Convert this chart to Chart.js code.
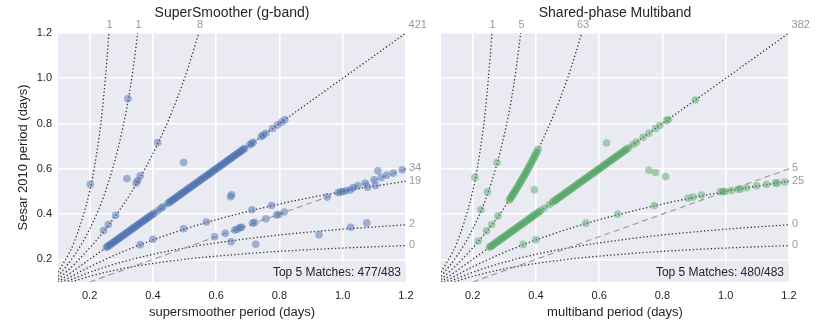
<!DOCTYPE html>
<html>
<head>
<meta charset="utf-8">
<script src="https://cdn.jsdelivr.net/npm/chart.js@4"></script>
<style>
  html, body { margin: 0; padding: 0; background: #fff; }
  #wrap { position: relative; width: 830px; height: 332px; }
  canvas { position: absolute; top: 0; }
  #left { left: 0; }
  #right { left: 430px; }
</style>
</head>
<body>
<div id="wrap">
  <canvas id="left" width="430" height="332"></canvas>
  <canvas id="right" width="400" height="332"></canvas>
</div>
<script>
// Axis ticks
const xTicks = [0.2, 0.4, 0.6, 0.8, 1.0, 1.2];
const xTickLabels = ['0.2', '0.4', '0.6', '0.8', '1.0', '1.2'];
const yTicks = [0.2, 0.4, 0.6, 0.8, 1.0, 1.2];
const yTickLabels = ['0.2', '0.4', '0.6', '0.8', '1.0', '1.2'];

// SuperSmoother: periods that match Sesar 2010
const ssMatch = [0.253, 0.257, 0.261, 0.265, 0.27, 0.274, 0.278, 0.283, 0.287, 0.292, 0.296, 0.3, 0.305, 0.309,
    0.313, 0.318, 0.322, 0.327, 0.331, 0.336, 0.34, 0.345, 0.349, 0.354, 0.358, 0.363, 0.367, 0.372, 0.376, 0.381,
    0.385, 0.39, 0.394, 0.399, 0.404, 0.415, 0.426, 0.432, 0.447, 0.452, 0.456, 0.461, 0.465, 0.47, 0.474, 0.479,
    0.483, 0.488, 0.492, 0.497, 0.501, 0.506, 0.51, 0.515, 0.519, 0.524, 0.528, 0.533, 0.537, 0.542, 0.546, 0.551,
    0.555, 0.56, 0.564, 0.569, 0.573, 0.578, 0.582, 0.587, 0.591, 0.596, 0.6, 0.605, 0.609, 0.614, 0.618, 0.623,
    0.627, 0.632, 0.636, 0.641, 0.645, 0.65, 0.654, 0.659, 0.663, 0.668, 0.672, 0.677, 0.681, 0.686, 0.69,
    0.706, 0.712, 0.717, 0.743, 0.748, 0.757, 0.778, 0.794, 0.807, 0.817];
// SuperSmoother: other (aliased / mismatched) periods
const ssOtherX = [0.202, 0.318, 0.347, 0.352, 0.36, 0.321, 0.415, 0.497, 0.282, 0.259, 0.244, 0.36, 0.4, 0.497,
    0.569, 0.595, 0.629, 0.647, 0.659, 0.666, 0.675, 0.68, 0.645, 0.649, 0.713, 0.715, 0.722, 0.725, 0.757, 0.775,
    0.791, 0.798, 0.815, 0.925, 0.951, 0.986, 0.994, 1.002, 1.012, 1.025, 1.025, 1.033, 1.048, 1.071, 1.076, 1.079,
    1.099, 1.104, 1.111, 1.121, 1.139, 1.16, 1.188];
const ssOtherY = [0.532, 0.557, 0.537, 0.548, 0.569, 0.91, 0.716, 0.628, 0.395, 0.354, 0.327, 0.265, 0.289, 0.335,
    0.365, 0.3, 0.315, 0.278, 0.33, 0.333, 0.34, 0.342, 0.477, 0.485, 0.419, 0.36, 0.364, 0.267, 0.379, 0.438,
    0.396, 0.398, 0.409, 0.309, 0.475, 0.495, 0.498, 0.5, 0.504, 0.507, 0.342, 0.517, 0.526, 0.537, 0.361, 0.519,
    0.551, 0.526, 0.591, 0.561, 0.572, 0.581, 0.596];

// Multiband: periods that match Sesar 2010
const mbMatch = [0.253, 0.257, 0.261, 0.265, 0.27, 0.274, 0.278, 0.283, 0.287, 0.292, 0.296, 0.3, 0.305, 0.309,
    0.313, 0.318, 0.322, 0.327, 0.331, 0.336, 0.34, 0.345, 0.349, 0.354, 0.358, 0.363, 0.367, 0.372, 0.376, 0.381,
    0.385, 0.39, 0.394, 0.399, 0.404, 0.409, 0.414, 0.426, 0.442, 0.453, 0.457, 0.462, 0.466, 0.471, 0.475, 0.48,
    0.484, 0.489, 0.493, 0.498, 0.502, 0.507, 0.511, 0.516, 0.52, 0.525, 0.529, 0.534, 0.538, 0.543, 0.547, 0.552,
    0.556, 0.561, 0.565, 0.57, 0.574, 0.579, 0.583, 0.588, 0.592, 0.597, 0.601, 0.606, 0.61, 0.615, 0.619, 0.624,
    0.628, 0.633, 0.637, 0.642, 0.646, 0.651, 0.655, 0.66, 0.664, 0.669, 0.673, 0.678, 0.682, 0.687, 0.692,
    0.707, 0.718, 0.739, 0.757, 0.778, 0.792, 0.813, 0.818, 0.904];
// Multiband: the run of periods one day alias off (steep band)
const mbAliasX = [0.316, 0.319, 0.322, 0.325, 0.328, 0.331, 0.334, 0.337, 0.34, 0.343, 0.346, 0.349, 0.352, 0.355,
    0.358, 0.361, 0.364, 0.367, 0.37, 0.373, 0.376, 0.379, 0.382, 0.385, 0.388, 0.391, 0.394, 0.397, 0.4, 0.403, 0.407];
const mbAliasY = [0.462, 0.4684, 0.4749, 0.4815, 0.4881, 0.4948, 0.5015, 0.5083, 0.5152, 0.5221, 0.5291, 0.5361,
    0.5432, 0.5504, 0.5576, 0.5649, 0.5723, 0.5798, 0.5873, 0.5949, 0.6026, 0.6103, 0.6181, 0.626, 0.634, 0.642,
    0.6502, 0.6584, 0.6667, 0.675, 0.6863];
// Multiband: other periods
const mbOtherX = [0.207, 0.277, 0.247, 0.226, 0.28, 0.26, 0.244, 0.218, 0.395, 0.623, 0.36, 0.4, 0.558, 0.658,
    0.774, 0.757, 0.778, 0.81, 0.881, 0.897, 0.923, 0.983, 0.992, 0.997, 1.018, 1.039, 1.047, 1.066, 1.097, 1.129,
    1.157, 1.163, 1.187];
const mbOtherY = [0.562, 0.628, 0.498, 0.419, 0.392, 0.354, 0.326, 0.281, 0.507, 0.714, 0.266, 0.287, 0.36, 0.399,
    0.438, 0.594, 0.584, 0.566, 0.47, 0.475, 0.484, 0.5, 0.5, 0.5, 0.504, 0.51, 0.511, 0.516, 0.525, 0.531,
    0.537, 0.537, 0.542];

// Alias guide curves
const identX = [0.1, 1.25];
const identY = [0.1, 1.25];
const halfX = [0.2, 1.2];
const halfY = [0.1, 0.6];
const lowX = [0.1, 0.15, 0.2, 0.3, 0.4, 0.5, 0.6, 0.8, 1.0, 1.2];
const low1Y = [0.0909, 0.1304, 0.1667, 0.2308, 0.2857, 0.3333, 0.375, 0.4444, 0.5, 0.5455];
const low2Y = [0.0833, 0.1154, 0.1429, 0.1875, 0.2222, 0.25, 0.2727, 0.3077, 0.3333, 0.3529];
const low3Y = [0.0769, 0.1034, 0.125, 0.1579, 0.1818, 0.2, 0.2143, 0.2353, 0.25, 0.2609];
const up1X = [0.1, 0.15, 0.2, 0.25, 0.3, 0.35, 0.4, 0.45, 0.5, 0.55];
const up1Y = [0.1111, 0.1765, 0.25, 0.3333, 0.4286, 0.5385, 0.6667, 0.8182, 1.0, 1.2222];
const up2X = [0.1, 0.15, 0.2, 0.25, 0.3, 0.33, 0.36];
const up2Y = [0.125, 0.2143, 0.3333, 0.5, 0.75, 0.9706, 1.2857];
const up3X = [0.1, 0.15, 0.2, 0.22, 0.24, 0.26, 0.27];
const up3Y = [0.1429, 0.2727, 0.5, 0.6471, 0.8571, 1.1818, 1.4211];

// Curve counts shown at the top and right edge
const topLabelX = [0.263, 0.355, 0.549, 1.237];
const ssTopLabels = ['1', '1', '8', '421'];
const mbTopLabels = ['1', '5', '63', '382'];
const sideLabelY = [0.603, 0.548, 0.357, 0.264];
const ssSideLabels = ['34', '19', '2', '0'];
const mbSideLabels = ['5', '25', '0', '0'];

const FONT = '"Liberation Sans", Arial, sans-serif';
Chart.defaults.font.family = FONT;

function pts(xs, ys) {
    return xs.map((x, i) => ({x: x, y: ys[i]}));
}

function curve(xs, ys, dashed) {
    return {
        type: 'line',
        data: pts(xs, ys),
        borderColor: dashed ? '#999' : '#333',
        borderWidth: dashed ? 1.1 : 1.3,
        borderDash: dashed ? [6, 4] : [1.3, 2.3],
        pointRadius: 0,
        cubicInterpolationMode: 'monotone',
        fill: false,
        order: 2
    };
}

function dots(data, color) {
    return {
        type: 'scatter',
        data: data,
        backgroundColor: color,
        borderWidth: 0,
        pointRadius: 3.8,
        order: 1
    };
}

// Background, titles, curve labels, match note
const panelDecor = {
    id: 'panelDecor',
    beforeDraw(chart) {
        const {ctx, chartArea: a} = chart;
        ctx.save();
        ctx.fillStyle = '#EAEAF2';
        ctx.fillRect(a.left, a.top, a.right - a.left, a.bottom - a.top);
        ctx.restore();
    },
    afterDraw(chart, args, o) {
        const {ctx, chartArea: a, scales: {x, y}} = chart;
        const cx = (a.left + a.right) / 2;
        ctx.save();
        ctx.textBaseline = 'middle';
        ctx.textAlign = 'center';
        ctx.fillStyle = '#262626';
        ctx.font = '14px ' + FONT;
        ctx.fillText(o.title, cx, 13);
        ctx.font = '13px ' + FONT;
        ctx.fillText(o.xTitle, cx, 312);
        if (o.yTitle) {
            ctx.save();
            ctx.translate(23, (a.top + a.bottom) / 2);
            ctx.rotate(-Math.PI / 2);
            ctx.fillText(o.yTitle, 0, 0);
            ctx.restore();
        }

        // note box
        ctx.font = '12px ' + FONT;
        const w = ctx.measureText(o.note).width;
        ctx.fillStyle = 'rgba(234,234,242,0.8)';
        ctx.fillRect(a.right - w - 11, 262, w + 11, a.bottom - 262);
        ctx.fillStyle = '#262626';
        ctx.textAlign = 'right';
        ctx.fillText(o.note, a.right - 5, 273);

        // curve labels
        ctx.fillStyle = '#999';
        ctx.font = '11px ' + FONT;
        ctx.textAlign = 'center';
        o.top.forEach((t, i) => ctx.fillText(t, x.getPixelForValue(topLabelX[i]), 25));
        ctx.textAlign = 'left';
        o.side.forEach((t, i) => ctx.fillText(t, a.right + 3, y.getPixelForValue(sideLabelY[i])));
        ctx.restore();
    }
};

function makeChart(id, cfg) {
    return new Chart(document.getElementById(id), {
        data: {
            datasets: [
                dots(cfg.points, cfg.color),
                curve(identX, identY),
                curve(halfX, halfY, true),
                curve(lowX, low1Y),
                curve(lowX, low2Y),
                curve(lowX, low3Y),
                curve(up1X, up1Y),
                curve(up2X, up2Y),
                curve(up3X, up3Y)
            ]
        },
        options: {
            responsive: false,
            animation: false,
            devicePixelRatio: 1,
            layout: {padding: {top: 33, right: cfg.padRight, bottom: 0, left: 0}},
            plugins: {
                legend: {display: false},
                tooltip: {enabled: false},
                panelDecor: cfg.text
            },
            scales: {
                x: {
                    type: 'linear', min: 0.1, max: 1.2,
                    border: {display: false},
                    grid: {color: '#fff', lineWidth: 1.6, drawTicks: false},
                    ticks: {color: '#262626', font: {size: 11}, padding: 7, callback: (v, i) => xTickLabels[i]},
                    afterBuildTicks: s => { s.ticks = xTicks.map(v => ({value: v})); },
                    afterFit: s => { s.height = 50; }
                },
                y: {
                    type: 'linear', min: 0.1, max: 1.2,
                    border: {display: false},
                    grid: {color: '#fff', lineWidth: 1.6, drawTicks: false},
                    ticks: {display: cfg.showY, color: '#262626', font: {size: 11}, padding: 6,
                        callback: (v, i) => yTickLabels[i]},
                    afterBuildTicks: s => { s.ticks = yTicks.map(v => ({value: v})); },
                    afterFit: s => { s.width = cfg.yWidth; }
                }
            }
        },
        plugins: [panelDecor]
    });
}

document.addEventListener('DOMContentLoaded', function() {
    // SuperSmoother panel
    makeChart('left', {
        points: ssMatch.map(p => ({x: p, y: p})).concat(pts(ssOtherX, ssOtherY)),
        color: 'rgba(76,114,176,0.5)',
        padRight: 24,
        yWidth: 58,
        showY: true,
        text: {
            title: 'SuperSmoother (g-band)',
            xTitle: 'supersmoother period (days)',
            yTitle: 'Sesar 2010 period (days)',
            note: 'Top 5 Matches: 477/483',
            top: ssTopLabels,
            side: ssSideLabels
        }
    });

    // Multiband panel
    makeChart('right', {
        points: mbMatch.map(p => ({x: p, y: p})).concat(pts(mbAliasX, mbAliasY), pts(mbOtherX, mbOtherY)),
        color: 'rgba(85,168,104,0.5)',
        padRight: 41,
        yWidth: 11,
        showY: false,
        text: {
            title: 'Shared-phase Multiband',
            xTitle: 'multiband period (days)',
            note: 'Top 5 Matches: 480/483',
            top: mbTopLabels,
            side: mbSideLabels
        }
    });
});
</script>
</body>
</html>
